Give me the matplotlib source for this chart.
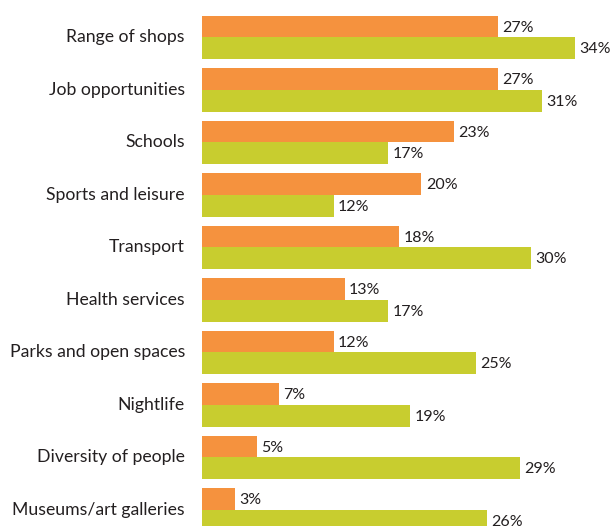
import matplotlib.pyplot as plt
import numpy as np

categories = ["Range of shops", "Job opportunities", "Schools", "Sports and leisure",
              "Transport", "Health services", "Parks and open spaces", "Nightlife",
              "Diversity of people", "Museums/art galleries"]
orange_vals = [27, 27, 23, 20, 18, 13, 12, 7, 5, 3]
green_vals = [34, 31, 17, 12, 30, 17, 25, 19, 29, 26]

orange = '#F5923E'
green = '#C8CD2F'
text_color = '#231F20'

plt.rcParams['font.family'] = ['Lato', 'DejaVu Sans']

fig = plt.figure(figsize=(6.14, 5.26), dpi=100)
ax = fig.add_axes([202 / 614, 0, 1 - 202 / 614, 1])

y = np.arange(len(categories))
h = 0.41

ax.barh(y - h / 2, orange_vals, height=h, color=orange, linewidth=0)
ax.barh(y + h / 2, green_vals, height=h, color=green, linewidth=0)

# value labels just past the end of each bar
for yi, v in zip(y, orange_vals):
    ax.text(v + 0.4, yi - h / 2 + 0.02, f"{v}%", va='center', ha='left',
            fontsize=11.5, color=text_color)
for yi, v in zip(y, green_vals):
    ax.text(v + 0.4, yi + h / 2 + 0.02, f"{v}%", va='center', ha='left',
            fontsize=11.5, color=text_color)

# category names to the left of the bars
for yi, c in zip(y, categories):
    ax.text(-1.55, yi, c, va='center', ha='right', fontsize=12.7, color=text_color,
            clip_on=False)

ax.set_xlim(0, 412 / 10.97)
ax.set_ylim(9.305, -0.714)
ax.axis('off')

fig.savefig('out.png', dpi=100)
